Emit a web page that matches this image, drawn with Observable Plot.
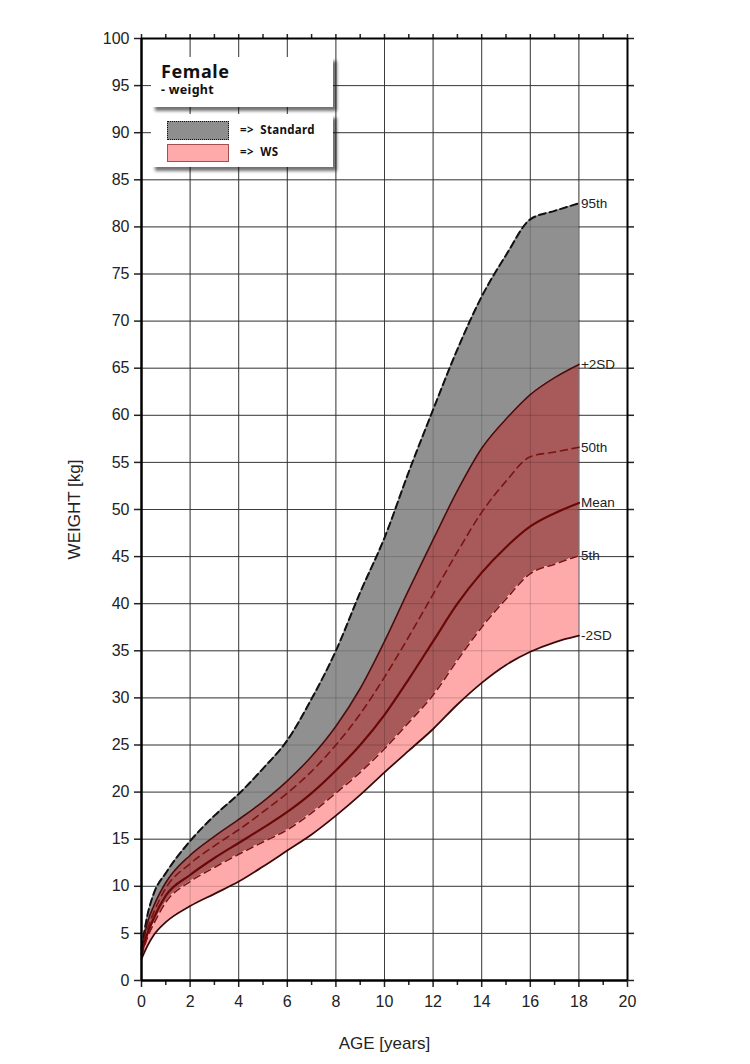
<!DOCTYPE html>
<html>
<head>
<meta charset="utf-8">
<script src="https://cdn.jsdelivr.net/npm/d3@7"></script>
<script src="https://cdn.jsdelivr.net/npm/@observablehq/plot@0.6"></script>
<style>
  html, body { margin: 0; padding: 0; background: #fff; }
  #wrap { position: relative; width: 750px; height: 1064px; }
  .box { position: absolute; background: #fff; box-shadow: 4px 4px 3px rgba(0,0,0,0.55); font-family: "Noto Sans", sans-serif; font-weight: bold; color: #111; }
  .sw { position: absolute; width: 62px; height: 17px; }
  .lt { position: absolute; font-size: 11.5px; letter-spacing: 0.3px; }
</style>
</head>
<body>
<div id="wrap"></div>
<script>
// ---- data ----
const ages   = [0, 0.25, 0.5, 1, 2, 3, 4, 5, 6, 7, 8, 9, 10, 11, 12, 13, 14, 15, 16, 17, 18];
const p95    = [3.4, 7.0, 9.2, 11.4, 14.8, 17.5, 19.8, 22.5, 25.5, 29.9, 35.0, 41.2, 47.0, 54.0, 60.6, 67.0, 72.6, 77.0, 80.8, 81.7, 82.5];
const plus2sd= [3.2, 6.2, 7.9, 10.4, 13.3, 15.3, 17.1, 19.0, 21.2, 23.8, 27.0, 31.0, 36.0, 41.5, 46.8, 52.0, 56.5, 59.6, 62.2, 64.0, 65.4];
const p50    = [3.0, 5.5, 7.2, 9.8, 12.4, 14.3, 16.0, 17.9, 19.9, 22.2, 25.0, 28.3, 32.2, 36.5, 41.0, 45.5, 49.7, 53.0, 55.6, 56.1, 56.6];
const meanWS = [2.8, 5.0, 6.6, 9.0, 11.2, 13.0, 14.6, 16.2, 17.9, 19.9, 22.3, 25.0, 28.2, 32.0, 36.0, 40.0, 43.3, 46.0, 48.2, 49.6, 50.7];
const p5     = [2.6, 4.6, 6.0, 8.3, 10.5, 12.0, 13.4, 14.7, 16.0, 17.8, 19.9, 22.1, 24.6, 27.4, 30.3, 34.0, 37.5, 40.5, 43.2, 44.2, 45.1];
const minus2sd=[2.3, 3.7, 4.8, 6.2, 7.9, 9.2, 10.5, 12.1, 13.8, 15.5, 17.5, 19.7, 22.1, 24.4, 26.7, 29.3, 31.6, 33.5, 34.9, 35.9, 36.6];
const seriesNames = ["95th", "+2SD", "50th", "Mean", "5th", "-2SD"];
const xTicks = [0, 2, 4, 6, 8, 10, 12, 14, 16, 18, 20];
const yTicks = [0, 5, 10, 15, 20, 25, 30, 35, 40, 45, 50, 55, 60, 65, 70, 75, 80, 85, 90, 95, 100];
const xMinor = [1, 3, 5, 7, 9, 11, 13, 15, 17, 19];

const rows = ages.map((a, i) => ({age: a, p95: p95[i], p2: plus2sd[i], p50: p50[i], mean: meanWS[i], p5: p5[i], m2: minus2sd[i]}));
const seriesVals = [p95, plus2sd, p50, meanWS, p5, minus2sd];
const endLabels = seriesNames.map((n, i) => ({age: ages[ages.length - 1], v: seriesVals[i][ages.length - 1], name: n}));

const curve = "monotone-x";
const gridX = xTicks.filter(d => d > 0 && d < 20);
const gridY = yTicks.filter(d => d > 0 && d < 100);
const font = "'Liberation Sans', Arial, sans-serif";

const chart = Plot.plot({
  width: 750,
  height: 1064,
  marginLeft: 141,
  marginRight: 123,
  marginTop: 38,
  marginBottom: 84,
  style: {fontFamily: font, fontSize: "15px", color: "#222", background: "#fff"},
  x: {domain: [0, 20]},
  y: {domain: [0, 100]},
  marks: [
    Plot.ruleX(gridX, {stroke: "#4a4a4a", strokeWidth: 1}),
    Plot.ruleY(gridY, {stroke: "#4a4a4a", strokeWidth: 1}),
    Plot.areaY(rows, {x: "age", y1: "p2", y2: "p95", fill: "#909090", curve}),
    Plot.areaY(rows, {x: "age", y1: "p5", y2: "p2", fill: "#a85a5a", curve}),
    Plot.areaY(rows, {x: "age", y1: "m2", y2: "p5", fill: "#ffaaaa", curve}),
    Plot.ruleX(gridX, {stroke: "#000", strokeWidth: 1, strokeOpacity: 0.18}),
    Plot.ruleY(gridY, {stroke: "#000", strokeWidth: 1, strokeOpacity: 0.18}),
    Plot.line(rows, {x: "age", y: "p95", stroke: "#111", strokeWidth: 2, strokeDasharray: "7,4", curve}),
    Plot.line(rows, {x: "age", y: "p2", stroke: "#4a0e0e", strokeWidth: 1.6, curve}),
    Plot.line(rows, {x: "age", y: "p50", stroke: "#7a1414", strokeWidth: 1.6, strokeDasharray: "7,5", curve}),
    Plot.line(rows, {x: "age", y: "mean", stroke: "#6a0808", strokeWidth: 2.2, curve}),
    Plot.line(rows, {x: "age", y: "p5", stroke: "#7a1414", strokeWidth: 1.6, strokeDasharray: "7,5", curve}),
    Plot.line(rows, {x: "age", y: "m2", stroke: "#3a0808", strokeWidth: 1.8, curve}),
    // axes
    Plot.axisX(xTicks, {anchor: "bottom", tickSize: 7, tickPadding: 8, strokeWidth: 1.5, fontSize: 16, label: null}),
    Plot.axisX(xTicks, {anchor: "bottom", tickSize: 0, text: null, fontSize: 17, label: "AGE [years]", labelAnchor: "center", labelOffset: 68, labelArrow: false}),
    Plot.axisX(xMinor, {anchor: "bottom", tickSize: 5, text: null, label: null, strokeWidth: 1.5}),
    Plot.axisX(xMinor.concat(xTicks), {anchor: "top", tickSize: 5, text: null, label: null, strokeWidth: 1.5}),
    Plot.axisY(yTicks, {anchor: "left", tickSize: 7, tickPadding: 5, strokeWidth: 1.5, fontSize: 16, label: null}),
    Plot.axisY(yTicks, {anchor: "left", tickSize: 0, text: null, fontSize: 17, label: "WEIGHT [kg]", labelAnchor: "center", labelOffset: 74, labelArrow: false}),
    Plot.axisY(yTicks, {anchor: "right", tickSize: 6, text: null, label: null, strokeWidth: 1.5}),
    Plot.ruleX([0], {stroke: "#000", strokeWidth: 2.5}),
    Plot.ruleY([0], {stroke: "#000", strokeWidth: 2.5}),
    Plot.ruleX([20], {stroke: "#000", strokeWidth: 2}),
    Plot.ruleY([100], {stroke: "#000", strokeWidth: 2}),
    // end labels
    Plot.text(endLabels, {x: "age", y: "v", text: "name", textAnchor: "start", dx: 2, fontSize: 13.5, fill: "#222"})
  ]
});
const wrap = document.getElementById("wrap");
wrap.appendChild(chart);

// legend boxes (HTML overlay)
const b1 = document.createElement("div");
b1.className = "box";
Object.assign(b1.style, {left: "151px", top: "57px", width: "182px", height: "50px"});
b1.innerHTML = '<div style="position:absolute;left:10px;top:2px;font-size:18px;letter-spacing:0.6px">Female</div>' +
               '<div style="position:absolute;left:10px;top:24px;font-size:12.5px;letter-spacing:0.3px">- weight</div>';
wrap.appendChild(b1);
const b2 = document.createElement("div");
b2.className = "box";
Object.assign(b2.style, {left: "151px", top: "114px", width: "182px", height: "53px"});
b2.innerHTML = '<div class="sw" style="left:16px;top:7px;background:#8e8e8e;border:1.5px dotted #111;box-sizing:border-box;height:19px"></div>' +
               '<div class="lt" style="left:89px;top:8px">=&gt;&nbsp;&nbsp;Standard</div>' +
               '<div class="sw" style="left:16px;top:30px;background:#ffaaaa;border:1px solid #a05050;box-sizing:border-box;height:18px"></div>' +
               '<div class="lt" style="left:89px;top:30px">=&gt;&nbsp;&nbsp;WS</div>';
wrap.appendChild(b2);
</script>
</body>
</html>
